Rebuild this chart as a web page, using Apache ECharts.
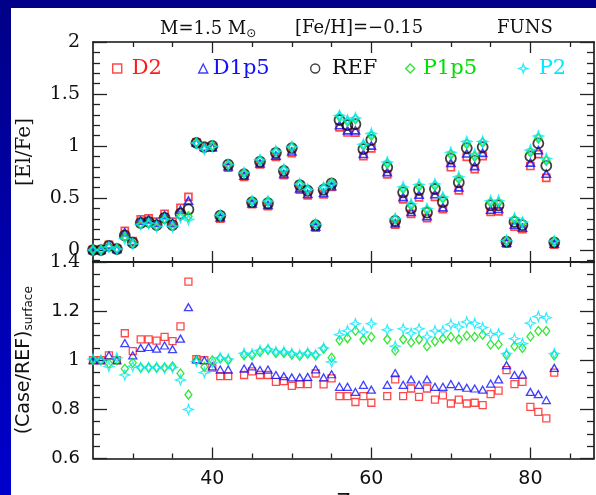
<!DOCTYPE html>
<html>
<head>
<meta charset="utf-8">
<style>html,body{margin:0;padding:0;background:#0000a0;}#c{width:596px;height:495px;}</style>
<script src="https://cdn.jsdelivr.net/npm/echarts@6/dist/echarts.min.js"></script>
</head>
<body>
<div id="c"></div>
<script>
// ---- data ----
const Z = [25,26,27,28,29,30,31,32,33,34,35,36,37,38,39,40,41,42,
           44,45,46,47,48,49,50,51,52,53,54,55,56,57,58,59,60,
           62,63,64,65,66,67,68,69,70,71,72,73,74,75,76,77,78,79,80,81,82,83];

// [El/Fe] (top panel)
const refTop = [0.00,0.00,0.04,0.01,0.14,0.07,0.26,0.27,0.24,0.31,0.24,0.35,0.39,1.03,0.99,1.00,0.33,0.82,
  0.73,0.46,0.85,0.45,0.935,0.76,0.98,0.625,0.57,0.24,0.58,0.64,1.25,1.20,1.21,0.97,1.06,
  0.795,0.28,0.555,0.40,0.577,0.36,0.587,0.46,0.88,0.65,0.98,0.86,0.99,0.43,0.43,0.08,0.27,0.24,0.90,1.025,0.81,0.074];
const d2Top = [0,0,0.05,0.01,0.185,0.086,0.295,0.305,0.273,0.349,0.273,0.406,0.511,1.032,0.99,0.987,0.301,0.791,
  0.703,0.44,0.823,0.423,0.895,0.721,0.932,0.581,0.526,0.216,0.535,0.607,1.18,1.13,1.129,0.902,0.977,
  0.727,0.245,0.487,0.347,0.507,0.307,0.511,0.393,0.796,0.574,0.896,0.777,0.902,0.366,0.372,0.062,0.226,0.2,0.808,0.923,0.693,0.052];
const d15Top = [0,0,0.05,0.01,0.17,0.079,0.281,0.293,0.26,0.335,0.259,0.387,0.475,1.032,0.99,0.989,0.313,0.803,
  0.715,0.449,0.832,0.433,0.908,0.731,0.948,0.593,0.539,0.224,0.548,0.614,1.20,1.15,1.15,0.924,1.004,
  0.749,0.257,0.509,0.365,0.531,0.325,0.537,0.41,0.836,0.602,0.928,0.807,0.934,0.387,0.395,0.071,0.243,0.214,0.84,0.96,0.734,0.06];
const p15Top = [0,0,0.03,0.01,0.125,0.066,0.247,0.257,0.227,0.297,0.229,0.326,0.324,1.03,0.978,1.00,0.333,0.82,
  0.739,0.469,0.864,0.468,0.948,0.773,0.99,0.633,0.582,0.249,0.60,0.644,1.284,1.237,1.259,1.005,1.099,
  0.83,0.297,0.59,0.43,0.612,0.384,0.619,0.497,0.919,0.685,1.021,0.899,1.033,0.457,0.457,0.089,0.294,0.261,0.94,1.074,0.859,0.083];
const p2Top = [0,0,0.03,0.01,0.11,0.059,0.247,0.257,0.227,0.296,0.226,0.314,0.293,1.028,0.968,0.996,0.334,0.822,
  0.742,0.471,0.867,0.469,0.95,0.775,0.992,0.634,0.583,0.249,0.601,0.637,1.293,1.249,1.27,1.017,1.121,
  0.846,0.304,0.607,0.445,0.629,0.399,0.636,0.509,0.939,0.705,1.043,0.921,1.044,0.473,0.475,0.092,0.307,0.269,0.961,1.096,0.88,0.086];

// (Case/REF)surface (bottom panel)
const d2Ratio = [1.00,1.00,1.02,1.00,1.11,1.037,1.085,1.085,1.08,1.095,1.078,1.138,1.32,1.004,1.00,0.97,0.935,0.935,
  0.94,0.955,0.94,0.94,0.912,0.915,0.896,0.903,0.903,0.946,0.902,0.926,0.854,0.854,0.83,0.854,0.827,
  0.854,0.922,0.854,0.885,0.851,0.885,0.84,0.857,0.824,0.84,0.824,0.827,0.817,0.862,0.876,0.96,0.903,0.912,0.81,0.79,0.763,0.95];
const d15Ratio = [1.00,1.00,1.02,1.00,1.07,1.02,1.05,1.054,1.047,1.06,1.045,1.088,1.216,1.004,1.00,0.975,0.962,0.962,
  0.966,0.975,0.96,0.962,0.94,0.935,0.93,0.93,0.932,0.963,0.93,0.943,0.892,0.892,0.871,0.90,0.88,
  0.90,0.948,0.90,0.922,0.90,0.922,0.892,0.892,0.903,0.895,0.888,0.885,0.88,0.905,0.922,0.98,0.94,0.942,0.871,0.862,0.838,0.969];
const p15Ratio = [1.00,1.00,0.987,1.00,0.965,0.99,0.97,0.97,0.97,0.97,0.975,0.946,0.86,1.0,0.973,1.0,1.007,1.0,
  1.02,1.02,1.034,1.043,1.03,1.03,1.023,1.018,1.027,1.02,1.047,1.01,1.081,1.09,1.12,1.084,1.095,
  1.085,1.04,1.085,1.072,1.085,1.057,1.077,1.088,1.095,1.085,1.10,1.095,1.104,1.064,1.064,1.02,1.057,1.05,1.097,1.119,1.119,1.02];
const p2Ratio = [1.005,1.00,0.975,1.01,0.94,0.975,0.97,0.97,0.97,0.968,0.97,0.92,0.80,0.995,0.95,0.99,1.01,1.005,
  1.028,1.025,1.04,1.045,1.035,1.035,1.028,1.022,1.03,1.022,1.05,0.993,1.104,1.12,1.149,1.115,1.149,
  1.124,1.057,1.128,1.11,1.128,1.095,1.12,1.12,1.146,1.135,1.156,1.15,1.133,1.105,1.108,1.027,1.088,1.068,1.151,1.178,1.173,1.027];

// tick labels
const xLabels = [40, 60, 80];
const xMinor = [30,35,45,50,55,65,70,75,85];
const yTopLabels = [0, 0.5, 1, 1.5, 2];
const yTopMinor = [-0.1,0.1,0.2,0.3,0.4,0.6,0.7,0.8,0.9,1.1,1.2,1.3,1.4,1.6,1.7,1.8,1.9];
const yBotLabels = [0.6, 0.8, 1, 1.2, 1.4];
const yBotMinor = [0.65,0.7,0.75,0.85,0.9,0.95,1.05,1.1,1.15,1.25,1.3,1.35];

// ---- styling ----
const COL = {D2:'#ff1a1a', D1p5:'#1010ff', REF:'#111111', P1p5:'#00e000', P2:'#00e8ff'};
const STAR = 'path://M5,0 L6.3,3.7 L10,5 L6.3,6.3 L5,10 L3.7,6.3 L0,5 L3.7,3.7 Z';
const SERIF = 'DejaVu Serif', SANS = 'DejaVu Sans';
const lineStyle = {color:'#111', width:1.6};
const tickStyle = {color:'#222', width:1.3};

function xAx(grid, pos, major, withLine, extra) {
  return Object.assign({
    type:'value', gridIndex:grid, position:pos, min:25, max:88,
    axisLine:{show:withLine, onZero:false, lineStyle},
    axisTick:{show:true, inside:true, length: major ? 11 : 5, lineStyle:tickStyle,
              customValues: major ? xLabels : xMinor},
    axisLabel:{show:false}, splitLine:{show:false}
  }, extra || {});
}
function yAx(grid, pos, min, max, vals, len, withLine, extra) {
  return Object.assign({
    type:'value', gridIndex:grid, position:pos, min:min, max:max,
    axisLine:{show:withLine, onZero:false, lineStyle},
    axisTick:{show:true, inside:true, length:len, lineStyle:tickStyle, customValues: vals},
    axisLabel:{show:false}, splitLine:{show:false}
  }, extra || {});
}
const pairs = (a) => Z.map((z,i)=>[z, a[i]]);

function sc(name, sym, size, data, xi, yi, bw) {
  return {
    type:'scatter', name, symbol:sym, symbolSize:size, xAxisIndex:xi, yAxisIndex:yi,
    data: pairs(data), silent:true, clip:false,
    itemStyle:{color:'rgba(0,0,0,0)', borderColor:COL[name], borderWidth:bw}
  };
}

const legendPos = [
  {name:'D2', left:112, pad:5, icon:'rect'},
  {name:'D1p5', left:198, pad:0, icon:'triangle'},
  {name:'REF', left:310, pad:7, icon:'circle'},
  {name:'P1p5', left:405, pad:3, icon:'diamond'},
  {name:'P2', left:518, pad:6, icon:STAR}
];

const option = {
  animation:false,
  backgroundColor:{type:'linear', x:0, y:0, x2:0, y2:1,
    colorStops:[{offset:0, color:'#000088'},{offset:1, color:'#0000cc'}]},
  graphic:[{type:'rect', left:11, top:8, shape:{width:600, height:500}, style:{fill:'#ffffff'}, z:-10, silent:true}],
  title:[
    {text:'M=1.5 M{s|⊙}', left:160, top:19, padding:0,
     textStyle:{fontFamily:SERIF, fontSize:18, fontWeight:'normal', color:'#111',
       rich:{s:{fontFamily:SANS, fontSize:12, color:'#111', padding:[9,0,0,0]}}}},
    {text:'[Fe/H]=−0.15', left:295, top:19, padding:0,
     textStyle:{fontFamily:SERIF, fontSize:18, fontWeight:'normal', color:'#111'}},
    {text:'FUNS', left:497, top:19, padding:0,
     textStyle:{fontFamily:SERIF, fontSize:18, fontWeight:'normal', color:'#111'}}
  ],
  legend: legendPos.map(l => ({
    data:[{name:l.name, icon:l.icon}], left:l.left, top:58, padding:0,
    itemWidth:9, itemHeight:9, selectedMode:false,
    itemStyle:{color:'rgba(0,0,0,0)', borderColor:COL[l.name], borderWidth:1.4},
    textStyle:{fontFamily:SERIF, fontSize:21, color:COL[l.name], padding:[0,0,0,l.pad]}
  })),
  grid:[
    {left:93, right:2, top:42, height:220, outerBoundsMode:'none', containLabel:false},
    {left:93, right:2, top:262, height:196.5, outerBoundsMode:'none', containLabel:false}
  ],
  xAxis:[
    xAx(0,'bottom',true,true), xAx(0,'bottom',false,false),
    xAx(0,'top',true,true), xAx(0,'top',false,false),
    xAx(1,'bottom',true,true,{
      axisLabel:{show:true, customValues:xLabels, margin:11, fontFamily:SANS, fontSize:19, color:'#111'},
      name:'Z', nameLocation:'middle', nameGap:33, nameTextStyle:{fontFamily:SANS, fontSize:20, color:'#111'}
    }),
    xAx(1,'bottom',false,false),
    xAx(1,'top',true,true), xAx(1,'top',false,false)
  ],
  yAxis:[
    yAx(0,'left',-0.115,2,yTopLabels,14,true,{
      axisLabel:{show:true, customValues:yTopLabels, margin:13, fontFamily:SERIF, fontSize:19, color:'#111'},
      name:'[El/Fe]', nameLocation:'middle', nameRotate:90, nameGap:58,
      nameTextStyle:{fontFamily:SERIF, fontSize:20, color:'#111'}
    }),
    yAx(0,'left',-0.115,2,yTopMinor,7,false),
    yAx(0,'right',-0.115,2,yTopLabels,14,true),
    yAx(0,'right',-0.115,2,yTopMinor,7,false),
    yAx(1,'left',0.6,1.4,yBotLabels,14,true,{
      axisLabel:{show:true, customValues:yBotLabels, margin:13, color:'#111',
        formatter:(v)=> (v===1.4||v===1) ? '{s|'+v+'}' : '{n|'+v+'}',
        rich:{s:{fontFamily:SERIF, fontSize:19, color:'#111'}, n:{fontFamily:SANS, fontSize:18, color:'#111'}}},
      name:'{m|(Case/REF)}{b|surface}', nameLocation:'middle', nameRotate:90, nameGap:58,
      nameTextStyle:{fontFamily:SANS, fontSize:19, color:'#111',
        rich:{m:{fontFamily:SANS, fontSize:19, color:'#111'},
              b:{fontFamily:SANS, fontSize:12, color:'#111', padding:[10,0,0,0]}}}
    }),
    yAx(1,'left',0.6,1.4,yBotMinor,7,false),
    yAx(1,'right',0.6,1.4,yBotLabels,14,true),
    yAx(1,'right',0.6,1.4,yBotMinor,7,false)
  ],
  series:[
    sc('D2','rect',7,d2Top,0,0,1.7),
    sc('D1p5','triangle',[8,7],d15Top,0,0,1.7),
    sc('REF','circle',10,refTop,0,0,1.8),
    sc('P1p5','diamond',[7,9],p15Top,0,0,1.7),
    sc('P2',STAR,10,p2Top,0,0,1.4),
    sc('D2','rect',7,d2Ratio,4,4,1.3),
    sc('D1p5','triangle',[8,7],d15Ratio,4,4,1.3),
    sc('P1p5','diamond',[7,9],p15Ratio,4,4,1.3),
    sc('P2',STAR,10,p2Ratio,4,4,1.2)
  ]
};
echarts.init(document.getElementById('c')).setOption(option);
</script>
</body>
</html>
